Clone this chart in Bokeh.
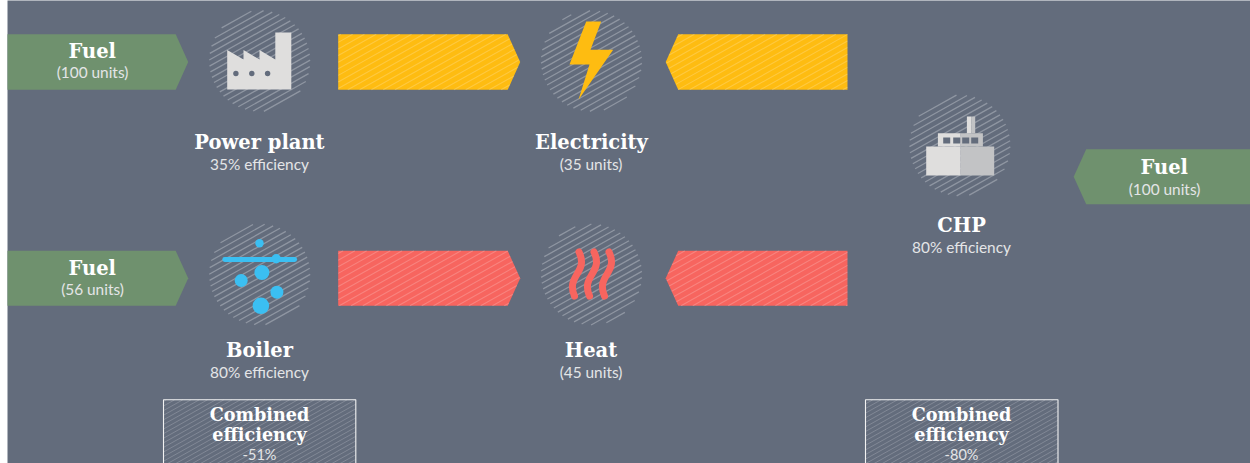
import numpy as np
from bokeh.plotting import figure
from bokeh.embed import file_html
from bokeh.resources import INLINE
from bokeh.core.properties import value

# ---- content ----
fuel_units = [100, 56, 100]
electricity_units = 35
heat_units = 45
plant_efficiency = [35, 80, 80]
combined_efficiency = ["-51%", "-80%"]
titles = ["Power plant", "Electricity", "CHP", "Boiler", "Heat"]

BG = "#636c7c"; GREEN = "#6f916e"; YELLOW = "#febc11"; RED = "#f7655f"
BLUE = "#3bbff2"; LIGHT = "#dfdedd"; MID = "#c2c3c5"

p = figure(width=1250, height=463, x_range=(0, 1250), y_range=(463, 0),
           output_backend="svg", toolbar_location=None, min_border=0,
           background_fill_color="#ffffff", border_fill_color="#ffffff", outline_line_color=None)
p.xaxis.visible = False; p.yaxis.visible = False
p.xgrid.visible = False; p.ygrid.visible = False
p.quad(left=[7], right=[1260], top=[-10], bottom=[473], fill_color=BG, line_color=None)


def clip_segment(a, b, poly):
    """Clip segment a-b against convex polygon."""
    t0, t1 = 0.0, 1.0
    d = b - a
    cx = poly.mean(axis=0)
    n = len(poly)
    for i in range(n):
        e0, e1 = poly[i], poly[(i + 1) % n]
        ed = e1 - e0
        nrm = np.array([-ed[1], ed[0]])
        if np.dot(nrm, cx - e0) < 0:
            nrm = -nrm
        den = np.dot(nrm, d)
        num = np.dot(nrm, a - e0)
        if abs(den) < 1e-9:
            if num < 0:
                return None
            continue
        t = -num / den
        if den > 0:
            t0 = max(t0, t)
        else:
            t1 = min(t1, t)
    if t0 >= t1:
        return None
    return a + d * t0, a + d * t1


def hatch(poly, spacing, color, width, alpha=1.0, slope=-0.56):
    poly = np.array(poly, float)
    xs, ys = [], []
    x0, x1 = poly[:, 0].min() - 5, poly[:, 0].max() + 5
    c = poly[:, 1] - slope * poly[:, 0]
    k = np.ceil(c.min() / spacing)
    while k * spacing < c.max():
        cc = k * spacing
        seg = clip_segment(np.array([x0, slope * x0 + cc]), np.array([x1, slope * x1 + cc]), poly)
        if seg:
            xs.append([seg[0][0], seg[1][0]])
            ys.append([seg[0][1], seg[1][1]])
        k += 1
    p.multi_line(xs, ys, line_color=color, line_width=width, line_alpha=alpha)


def circle_poly(cx, cy, r, n=72):
    a = np.linspace(0, 2 * np.pi, n, endpoint=False)
    return np.column_stack([cx + r * np.cos(a), cy + r * np.sin(a)])


def arrow_right(x0, x1, y0, y1, head=12.5):
    return [(x0, y0), (x1 - head, y0), (x1, (y0 + y1) / 2), (x1 - head, y1), (x0, y1)]


def arrow_left(x0, x1, y0, y1, head=12.5):
    return [(x0, (y0 + y1) / 2), (x0 + head, y0), (x1, y0), (x1, y1), (x0 + head, y1)]


def shape(poly, color):
    poly = np.array(poly, float)
    p.patch(poly[:, 0], poly[:, 1], fill_color=color, line_color=None)


# ---- arrows ----
for poly in [arrow_right(7, 187.7, 33.8, 89.3), arrow_right(7, 187.7, 250.3, 305.3),
             arrow_left(1073.2, 1250, 148.8, 203.8)]:
    shape(poly, GREEN)
for poly, col in [(arrow_right(337.7, 519.7, 33.8, 89.3), YELLOW), (arrow_left(665.2, 847, 33.8, 89.3), YELLOW),
                  (arrow_right(337.7, 519.7, 250.3, 305.3), RED), (arrow_left(665.2, 847, 250.3, 305.3), RED)]:
    shape(poly, col)
    hatch(poly, 6.6, "#ffffff", 1.1, alpha=0.2)

# ---- hatched discs ----
for cx, cy in [(259.2, 60.5), (591, 60.5), (959.4, 145), (259.2, 274), (591, 274)]:
    hatch(circle_poly(cx, cy, 50.5), 6.3, "#8f96a2", 1.3)

# ---- factory icon ----
shape_x = [226.7, 226.7, 243, 243, 259, 259, 274.8, 274.8, 290.8, 290.8]
shape_y = [89, 49.5, 59, 49.5, 59, 49.5, 59, 32, 32, 89]
p.patch(shape_x, shape_y, fill_color=LIGHT, line_color=None)
p.scatter([235.4, 251.3, 267.1], [73, 73, 73], size=5.4, fill_color=BG, line_color=None)

# ---- bolt ----
p.patch([585.7, 600.7, 590, 612.7, 578, 589, 569], [21, 21, 49.3, 49.3, 99.3, 64, 64],
        fill_color=YELLOW, line_color=None)

# ---- CHP icon ----
p.quad(left=[925.7, 960.2], right=[960.2, 993.7], top=[146, 146], bottom=[175, 175],
       fill_color=[LIGHT, MID], line_color=None)
p.quad(left=[937.4, 960.2], right=[960.2, 982.4], top=[132.7, 132.7], bottom=[146, 146],
       fill_color=[LIGHT, MID], line_color=None)
p.quad(left=[966.4, 970.7], right=[970.7, 974.7], top=[116, 116], bottom=[132.7, 132.7],
       fill_color=[LIGHT, MID], line_color=None)
p.quad(left=[942.7, 952.7, 961.7, 970.7], right=[949.7, 959.7, 968.7, 977.7], top=[137] * 4, bottom=[143] * 4,
       fill_color=BG, line_color=None)

# ---- boiler icon ----
p.line([224.2, 294.2], [259, 259], line_color=BLUE, line_width=4.8, line_cap="round")
p.scatter([259, 275.7, 261.4, 240.7, 276.4, 260.4], [242.7, 258.3, 272, 280, 291.7, 305.3],
          size=[8.4, 9.4, 15, 13, 13, 16.6], fill_color=BLUE, line_color=None)

# ---- heat icon ----
for dx in [0, 15, 30]:
    p.bezier(x0=[578.5 + dx], y0=[251.5], x1=[574 + dx], y1=[295.5],
             cx0=[588.5 + dx], cy0=[272], cx1=[565 + dx], cy1=[275],
             line_color=RED, line_width=7, line_cap="round")

# ---- combined boxes ----
for x0, x1 in [(163, 355.3), (865, 1057.5)]:
    box = [(x0, 399.3), (x1, 399.3), (x1, 475), (x0, 475)]
    hatch(box, 4.6, "#858b98", 0.9)
    p.line([x0, x0, x1, x1], [475, 399.3, 399.3, 475], line_color="#f2f2f2", line_width=1.1)


# ---- text ----
def bold(x, y, s, size="19.5px"):
    p.text([x], [y], text=[s], text_font=value("DejaVu Serif"), text_font_style="bold",
           text_font_size=size, text_color="#ffffff", text_align="center", text_baseline="middle")


def light(x, y, s, size="15.4px"):
    p.text([x], [y], text=[s], text_font=value("Lato"), text_font_size=size,
           text_color="#e4e5e7", text_align="center", text_baseline="middle")


bold(91.7, 50.5, "Fuel"); light(92, 71.5, f"({fuel_units[0]} units)")
bold(91.7, 267.5, "Fuel"); light(92, 288.5, f"({fuel_units[1]} units)")
bold(1163.7, 167, "Fuel"); light(1164, 188, f"({fuel_units[2]} units)")
bold(259, 142, titles[0]); light(259, 163, f"{plant_efficiency[0]}% efficiency")
bold(591, 142, titles[1]); light(590.5, 163, f"({electricity_units} units)")
bold(961, 225, titles[2]); light(961, 246, f"{plant_efficiency[2]}% efficiency")
bold(259, 350, titles[3]); light(259, 371, f"{plant_efficiency[1]}% efficiency")
bold(590.5, 350, titles[4]); light(590.5, 371, f"({heat_units} units)")
for cx, v in zip([259, 961], combined_efficiency):
    bold(cx, 413.5, "Combined", "17.6px"); bold(cx, 434, "efficiency", "17.6px"); light(cx, 454, v, "14.5px")

open("out.html", "w").write(file_html(p, INLINE))
